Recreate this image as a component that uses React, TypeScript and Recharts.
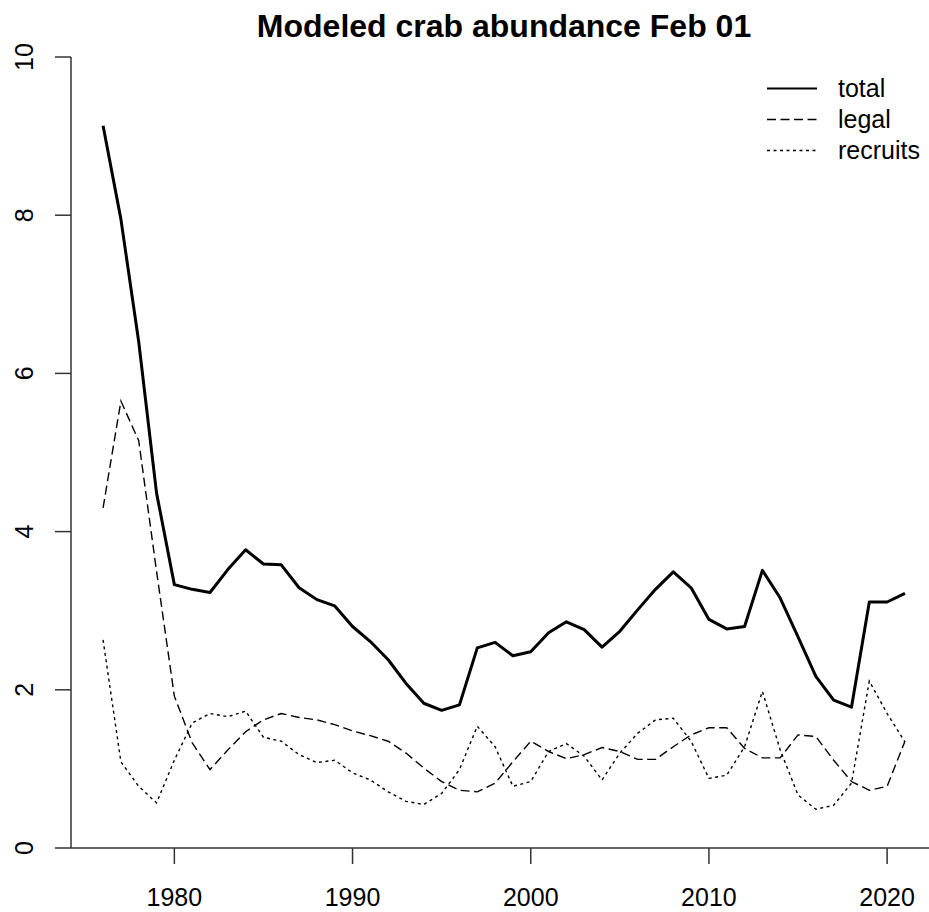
import { Line, LineChart, XAxis, YAxis } from 'recharts';

const years = [
  1976, 1977, 1978, 1979, 1980, 1981, 1982, 1983, 1984, 1985,
  1986, 1987, 1988, 1989, 1990, 1991, 1992, 1993, 1994, 1995,
  1996, 1997, 1998, 1999, 2000, 2001, 2002, 2003, 2004, 2005,
  2006, 2007, 2008, 2009, 2010, 2011, 2012, 2013, 2014, 2015,
  2016, 2017, 2018, 2019, 2020, 2021,
];

const total = [
  9.13, 7.95, 6.4, 4.49, 3.33, 3.27, 3.23, 3.52, 3.77, 3.59,
  3.58, 3.29, 3.14, 3.06, 2.8, 2.61, 2.38, 2.08, 1.83, 1.74,
  1.81, 2.53, 2.6, 2.43, 2.48, 2.72, 2.86, 2.76, 2.54, 2.74,
  3.01, 3.27, 3.49, 3.29, 2.89, 2.77, 2.8, 3.51, 3.16, 2.67,
  2.17, 1.87, 1.78, 3.11, 3.11, 3.22,
];

const legal = [
  4.3, 5.65, 5.15, 3.5, 1.92, 1.33, 0.99, 1.24, 1.47, 1.62,
  1.7, 1.65, 1.62, 1.56, 1.48, 1.42, 1.35, 1.2, 1.01, 0.84,
  0.73, 0.71, 0.82, 1.09, 1.35, 1.22, 1.13, 1.18, 1.27, 1.22,
  1.12, 1.12, 1.28, 1.43, 1.52, 1.52, 1.26, 1.14, 1.14, 1.43,
  1.41, 1.11, 0.84, 0.73, 0.78, 1.35,
];

const recruits = [
  2.63, 1.09, 0.78, 0.57, 1.11, 1.58, 1.7, 1.66, 1.73, 1.4,
  1.35, 1.18, 1.08, 1.11, 0.95, 0.86, 0.71, 0.59, 0.55, 0.69,
  0.99, 1.54, 1.28, 0.78, 0.84, 1.22, 1.32, 1.16, 0.86, 1.2,
  1.45, 1.62, 1.64, 1.35, 0.88, 0.92, 1.28, 1.98, 1.24, 0.67,
  0.49, 0.54, 0.82, 2.11, 1.7, 1.34,
];

const xTicks = [1980, 1990, 2000, 2010, 2020];
const yTicks = [0, 2, 4, 6, 8, 10];

const FONT = '"Liberation Sans", Arial, sans-serif';

const data = years.map((year, i) => ({
  year,
  total: total[i],
  legal: legal[i],
  recruits: recruits[i],
}));

const legendItems = [
  { name: 'total', dash: undefined, width: 2 },
  { name: 'legal', dash: '9 4.5', width: 1.6 },
  { name: 'recruits', dash: '3 3.5', width: 1.6 },
];

// legend drawn as an overlay so it doesn't eat into the plot area
const ChartLegend = () => (
  <div style={{
    position: 'absolute', top: 72.5, left: 767,
    fontFamily: FONT, fontSize: 25, color: '#000',
  }}>
    {legendItems.map(item => (
      <div key={item.name} style={{ display: 'flex', alignItems: 'center', height: 31 }}>
        <svg width={50} height={31}>
          <line x1={0} x2={50} y1={15.5} y2={15.5} stroke="#000"
            strokeWidth={item.width} strokeDasharray={item.dash} />
        </svg>
        <span style={{ marginLeft: 21, lineHeight: '31px' }}>{item.name}</span>
      </div>
    ))}
  </div>
);

const YTick = (props: any) => {
  const { y, payload } = props;
  return (
    <text x={24} y={y} transform={`rotate(-90, 24, ${y})`} textAnchor="middle"
      dominantBaseline="central" fontFamily={FONT} fontSize={25} fill="#000">
      {payload.value}
    </text>
  );
};

export default function App() {
  return (
    <div style={{ position: 'relative', width: 929, height: 912, background: '#fff' }}>
      <style>{'body { margin: 0; }'}</style>
      <LineChart width={929} height={912} data={data}
        margin={{ top: 57, right: 0, left: 0, bottom: 0 }}>
        <XAxis dataKey="year" type="number" domain={[1974.2, 2022.35]} ticks={xTicks}
          allowDataOverflow height={64} tickSize={16} tickMargin={24}
          axisLine={{ stroke: '#333', strokeWidth: 1.5 }} tickLine={{ stroke: '#333', strokeWidth: 1.5 }}
          tick={{ fontFamily: FONT, fontSize: 25, fill: '#000' }} />
        <YAxis type="number" domain={[0, 10]} ticks={yTicks} width={71} tickSize={16}
          axisLine={{ stroke: '#333', strokeWidth: 1.5 }} tickLine={{ stroke: '#333', strokeWidth: 1.5 }}
          tick={<YTick />} />
        <Line dataKey="total" type="linear" stroke="#000" strokeWidth={3} dot={false}
          strokeLinejoin="round" isAnimationActive={false} />
        <Line dataKey="legal" type="linear" stroke="#000" strokeWidth={1.4} dot={false}
          strokeDasharray="9 4.5" isAnimationActive={false} />
        <Line dataKey="recruits" type="linear" stroke="#000" strokeWidth={1.4} dot={false}
          strokeDasharray="3 3.5" isAnimationActive={false} />
      </LineChart>
      <div style={{
        position: 'absolute', top: 10, left: 71, width: 866, textAlign: 'center',
        fontFamily: FONT, fontWeight: 'bold', fontSize: 32, lineHeight: '32px', color: '#000',
      }}>
        Modeled crab abundance Feb 01
      </div>
      <ChartLegend />
    </div>
  );
}
